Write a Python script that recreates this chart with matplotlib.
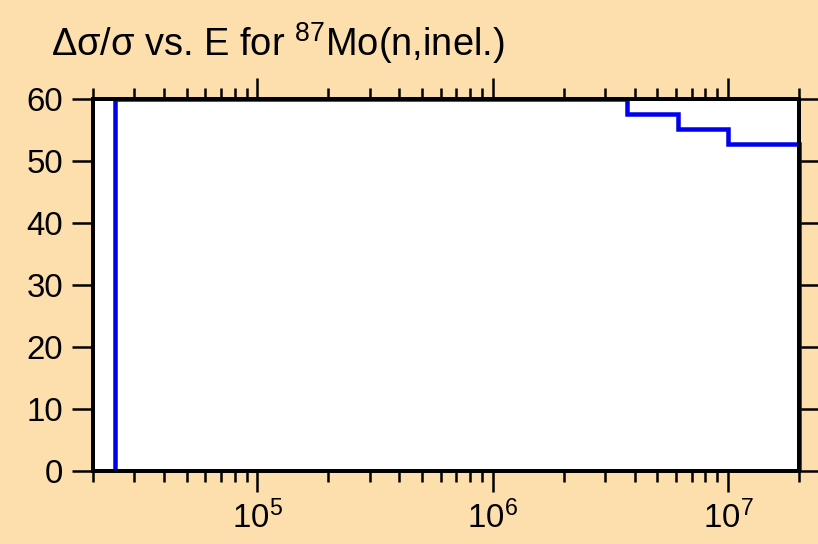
import matplotlib
matplotlib.use("Agg")
import matplotlib.pyplot as plt
from matplotlib.ticker import LogLocator, FixedLocator, NullFormatter

plt.rcParams['font.family'] = ['Liberation Sans', 'DejaVu Sans']
plt.rcParams['mathtext.fontset'] = 'custom'
plt.rcParams['mathtext.rm'] = 'Liberation Sans'
plt.rcParams['mathtext.it'] = 'Liberation Sans'
plt.rcParams['mathtext.default'] = 'regular'

# Data (energy bin edges in eV, relative uncertainty in %)
edges = [2.47e4, 3.7e6, 6.1e6, 1.0e7, 2.0e7]
values = [60.0, 57.6, 55.2, 52.7]
xlim = (2.0e4, 2.0e7)
ylim = (0, 60)
yticks = [0, 10, 20, 30, 40, 50, 60]
xticks = [1e5, 1e6, 1e7]
xticklabels = ['$10^{5}$', '$10^{6}$', '$10^{7}$']
title = r'Δσ/σ vs. E for $^{87}$Mo(n,inel.)'

bg = '#FDDEAD'
W, H = 818, 544
fig = plt.figure(figsize=(W/72, H/72), dpi=72, facecolor=bg)
ax = fig.add_axes([93/W, 1-471/H, (799-93)/W, (471-99)/H])
ax.set_facecolor('white')

ax.stairs(values, edges, baseline=0, color='#0000EE', linewidth=4.5,
          clip_on=False, zorder=2)

ax.set_xscale('log')
ax.set_xlim(*xlim)
ax.set_ylim(*ylim)
ax.set_yticks(yticks)
ax.set_yticklabels([str(v) for v in yticks])
ax.xaxis.set_major_locator(FixedLocator(xticks))
ax.set_xticklabels(xticklabels)
ax.xaxis.set_minor_locator(LogLocator(base=10, subs=range(2, 10), numticks=20))
ax.xaxis.set_minor_formatter(NullFormatter())

for s in ax.spines.values():
    s.set_linewidth(4)
    s.set_zorder(3)

ax.tick_params(axis='both', which='major', direction='out', length=21,
               width=2.5, labelsize=33, color='black',
               top=True, right=True)
ax.tick_params(axis='x', which='major', pad=9)
ax.tick_params(axis='y', which='major', pad=9)
ax.tick_params(axis='x', which='minor', direction='out', length=11,
               width=2.5, top=True, bottom=True)

fig.text(51/W, 1-56/H, title, fontsize=38, ha='left', va='baseline')

fig.savefig('out.png', dpi=72, facecolor=bg)
